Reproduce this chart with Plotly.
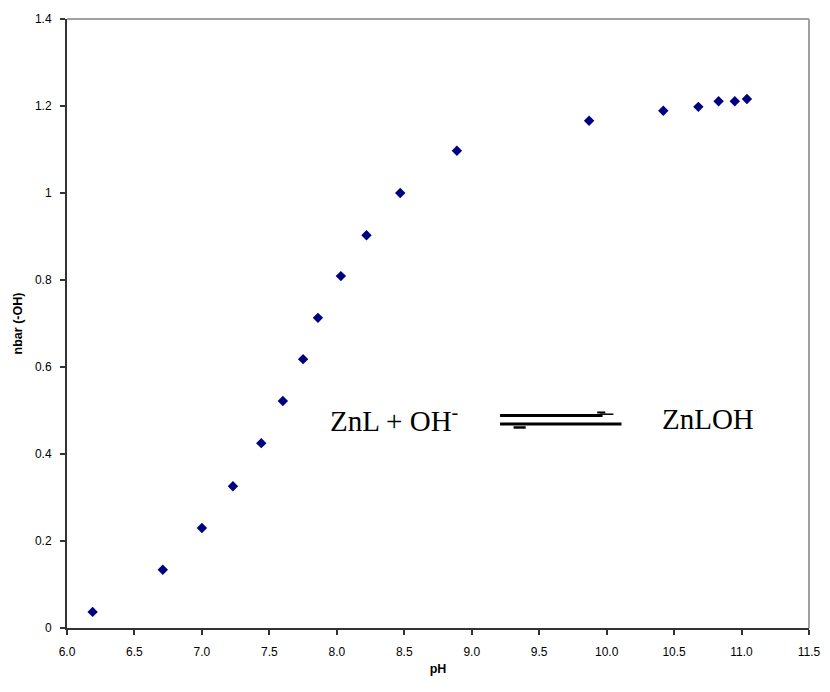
import plotly.graph_objects as go

ph = [6.19, 6.71, 7.00, 7.23, 7.44, 7.60, 7.75, 7.86, 8.03, 8.22, 8.47, 8.89,
      9.87, 10.42, 10.68, 10.83, 10.95, 11.04]
nbar = [0.037, 0.134, 0.230, 0.326, 0.425, 0.522, 0.618, 0.713, 0.809, 0.903,
        1.000, 1.097, 1.166, 1.189, 1.198, 1.211, 1.211, 1.216]

x_ticks = [6.0, 6.5, 7.0, 7.5, 8.0, 8.5, 9.0, 9.5, 10.0, 10.5, 11.0, 11.5]
y_ticks = [0, 0.2, 0.4, 0.6, 0.8, 1.0, 1.2, 1.4]
y_tick_labels = ["0", "0.2", "0.4", "0.6", "0.8", "1", "1.2", "1.4"]

fig = go.Figure()
fig.add_trace(go.Scatter(
    x=ph, y=nbar, mode="markers",
    marker=dict(symbol="diamond", size=8, color="#000080"),
    showlegend=False,
))

tickfont = dict(family="Liberation Sans, Arial", size=12, color="#000000")
titlefont = dict(family="Liberation Sans, Arial", size=12.5, color="#000000")

fig.update_xaxes(
    range=[6.0, 11.5], tickvals=x_ticks, ticktext=[f"{v:.1f}" for v in x_ticks],
    showgrid=False, zeroline=False, showline=True, linecolor="#333333", linewidth=2,
    ticks="outside", ticklen=5, tickwidth=1.5, tickcolor="#333333",
    tickfont=tickfont, ticklabelstandoff=7, automargin=False,
    title=dict(text="<b>pH</b>", font=titlefont, standoff=6),
)
fig.update_yaxes(
    range=[0, 1.4], tickvals=y_ticks, ticktext=y_tick_labels,
    showgrid=False, zeroline=False, showline=True, linecolor="#333333", linewidth=2,
    ticks="outside", ticklen=5, tickwidth=1.5, tickcolor="#333333",
    tickfont=tickfont, ticklabelstandoff=6, automargin=False,
    title=dict(text="<b>nbar (-OH)</b>", font=titlefont, standoff=10),
)

# top and right frame (gray)
fig.add_shape(type="line", xref="paper", yref="paper", x0=0, x1=1, y0=1, y1=1,
              line=dict(color="#a0a0a0", width=2))
fig.add_shape(type="line", xref="paper", yref="paper", x0=1, x1=1, y0=0, y1=1,
              line=dict(color="#a0a0a0", width=2))

# equilibrium arrow (harpoons)
blk = "#000000"
fig.add_shape(type="line", x0=9.21, x1=9.97, y0=0.4885, y1=0.4885, line=dict(color=blk, width=3))
fig.add_shape(type="line", x0=9.95, x1=10.05, y0=0.4915, y1=0.4915, line=dict(color=blk, width=1.5))
fig.add_shape(type="line", x0=9.93, x1=9.99, y0=0.4955, y1=0.4955, line=dict(color=blk, width=2))
fig.add_shape(type="line", x0=9.21, x1=10.11, y0=0.469, y1=0.469, line=dict(color=blk, width=3))
fig.add_shape(type="line", x0=9.31, x1=9.40, y0=0.461, y1=0.461, line=dict(color=blk, width=2.5))

serif = dict(family="Liberation Serif, Times New Roman", size=29, color="#000000")
fig.add_annotation(x=8.43, y=0.481, xref="x", yref="y", text="ZnL + OH<sup>-</sup>",
                   showarrow=False, xanchor="center", yanchor="middle", font=serif)
fig.add_annotation(x=10.75, y=0.481, xref="x", yref="y", text="ZnLOH",
                   showarrow=False, xanchor="center", yanchor="middle", font=serif)

fig.update_layout(
    width=830, height=692,
    margin=dict(l=67, r=21, t=19, b=64, autoexpand=False),
    plot_bgcolor="white", paper_bgcolor="white",
)

fig.write_html("out.html")
